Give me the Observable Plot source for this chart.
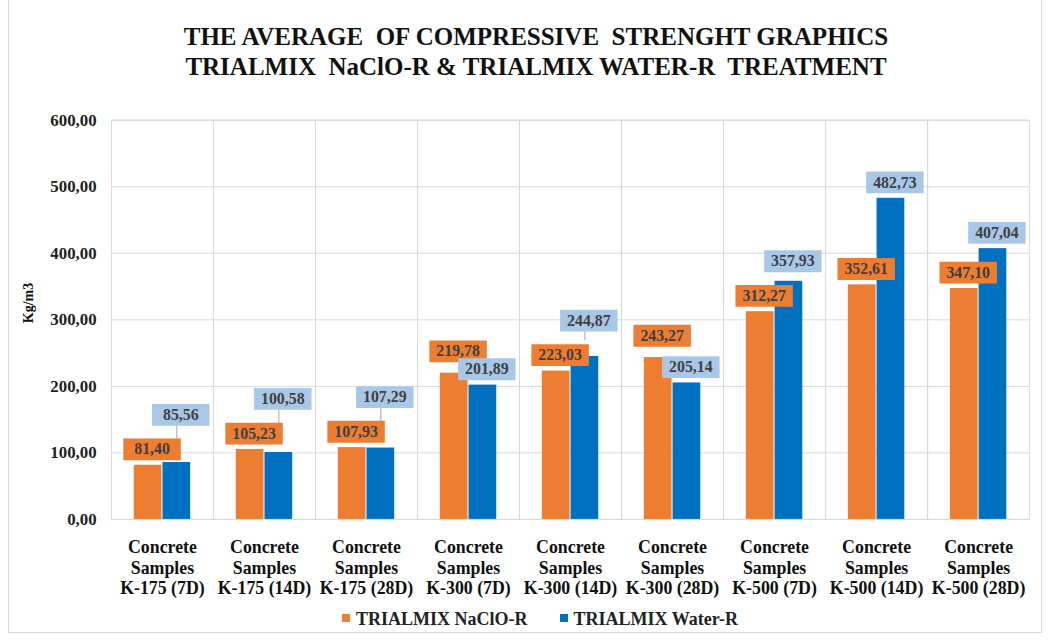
<!DOCTYPE html>
<html>
<head>
<meta charset="utf-8">
<script src="https://cdn.jsdelivr.net/npm/d3@7"></script>
<script src="https://cdn.jsdelivr.net/npm/@observablehq/plot@0.6"></script>
<style>
  html, body { margin: 0; padding: 0; background: #fff; }
  #wrap { position: relative; width: 1034px; height: 633px; margin-left: 8px; border: 1px solid #d9d9d9; border-top: none; box-sizing: border-box; font-family: "Liberation Serif", "Times New Roman", serif; }
  #title { position: absolute; left: -8px; top: 22px; width: 1070px; text-align: center; font-weight: bold; font-size: 25px; line-height: 30px; color: #111; }
  #chart { position: absolute; left: -8px; top: 95px; }
  #ylabel { position: absolute; left: 20px; top: 303px; transform: translate(-50%, -50%) rotate(-90deg); font-weight: bold; font-size: 14px; color: #111; white-space: nowrap; }
  #legend { position: absolute; top: 609px; left: -8px; width: 1078px; text-align: center; font-weight: bold; font-size: 18px; color: #222; }
  #legend span.sw { display: inline-block; width: 8px; height: 8px; margin-right: 6px; vertical-align: 3px; }
  #legend span.item { margin: 0 16px; }
</style>
</head>
<body>
<div id="wrap">
  <div id="title">THE AVERAGE&nbsp; OF COMPRESSIVE&nbsp; STRENGHT GRAPHICS<br>TRIALMIX&nbsp; NaClO-R &amp; TRIALMIX WATER-R&nbsp; TREATMENT</div>
  <div id="chart"></div>
  <div id="ylabel"></div>
  <div id="legend"></div>
</div>
<script>
const categories = ["K-175 (7D)", "K-175 (14D)", "K-175 (28D)", "K-300 (7D)", "K-300 (14D)", "K-300 (28D)", "K-500 (7D)", "K-500 (14D)", "K-500 (28D)"];
const series = ["TRIALMIX NaClO-R", "TRIALMIX Water-R"];
const nacloValues = [81.40, 105.23, 107.93, 219.78, 223.03, 243.27, 312.27, 352.61, 347.10];
const waterValues = [85.56, 100.58, 107.29, 201.89, 244.87, 205.14, 357.93, 482.73, 407.04];
const yTicks = [0, 100, 200, 300, 400, 500, 600];
const yLabel = "Kg/m3";

const colors = ["#ED7D31", "#0070C0"];
const boxColors = ["#ED7D31", "#A9C8E8"];

const fmt = v => d3.format(".2f")(v).replace(".", ",");

// label placement rule (avoid collisions like Excel callouts)
const rows = [];
categories.forEach((c, i) => {
  const o = nacloValues[i], w = waterValues[i];
  const blueBelow = w < o - 10;
  rows.push({cat: c, series: series[0], value: o, labelY: blueBelow ? o + 9 : o});
  const wl = blueBelow ? w : Math.max(w, o + 52);
  rows.push({cat: c, series: series[1], value: w, labelY: wl});
});

const serif = '"Liberation Serif", "Times New Roman", serif';
const boxSymbol = { draw(ctx) { ctx.rect(-29, -11, 58, 22); } };

const chart = Plot.plot({
  width: 1050,
  height: 508,
  marginLeft: 108,
  marginRight: 10,
  marginTop: 25,
  marginBottom: 80,
  style: { fontFamily: serif, background: "transparent" },
  fx: { domain: categories, padding: 0, label: null },
  x: { domain: series, paddingInner: 0.03, paddingOuter: 0.745, axis: null },
  y: { domain: [0, 600], ticks: yTicks, label: null },
  color: { domain: series, range: colors },
  marks: [
    Plot.gridY(yTicks, { stroke: "#d9d9d9", strokeOpacity: 1 }),
    Plot.frame({ stroke: "#d9d9d9" }),
    Plot.barY(rows, { fx: "cat", x: "series", y: "value", fill: "series" }),
    Plot.ruleX(rows.filter(d => d.labelY > d.value + 20), { fx: "cat", x: "series", y1: "value", y2: "labelY", stroke: "#a6a6a6", strokeWidth: 1, dy: -16 }),
    Plot.dot(rows, { fx: "cat", x: "series", y: "labelY", dy: -16, dx: 4, symbol: boxSymbol, r: 5, stroke: null,
      fill: d => boxColors[series.indexOf(d.series)] }),
    Plot.text(rows, { fx: "cat", x: "series", y: "labelY", dy: -16, dx: 4, text: d => fmt(d.value),
      fill: "#404040", fontSize: 16, fontWeight: "bold", fontFamily: serif }),
    Plot.axisY(yTicks, { tickFormat: fmt, tickSize: 0, tickPadding: 15, fontSize: 17, fontWeight: "bold", fill: "#222", fontFamily: serif,
      label: null }),
    Plot.axisFx({ anchor: "bottom", tickSize: 0, tickPadding: 19, fontSize: 18, fontWeight: "bold", fill: "#111", fontFamily: serif,
      lineHeight: 1.16, label: null, tickFormat: d => "Concrete\nSamples\n" + d })
  ]
});
document.getElementById("chart").appendChild(chart);
document.getElementById("ylabel").textContent = yLabel;

const legend = document.getElementById("legend");
series.forEach((s, i) => {
  const item = document.createElement("span");
  item.className = "item";
  const sw = document.createElement("span");
  sw.className = "sw";
  sw.style.background = colors[i];
  item.appendChild(sw);
  item.appendChild(document.createTextNode(s));
  legend.appendChild(item);
});
</script>
</body>
</html>
